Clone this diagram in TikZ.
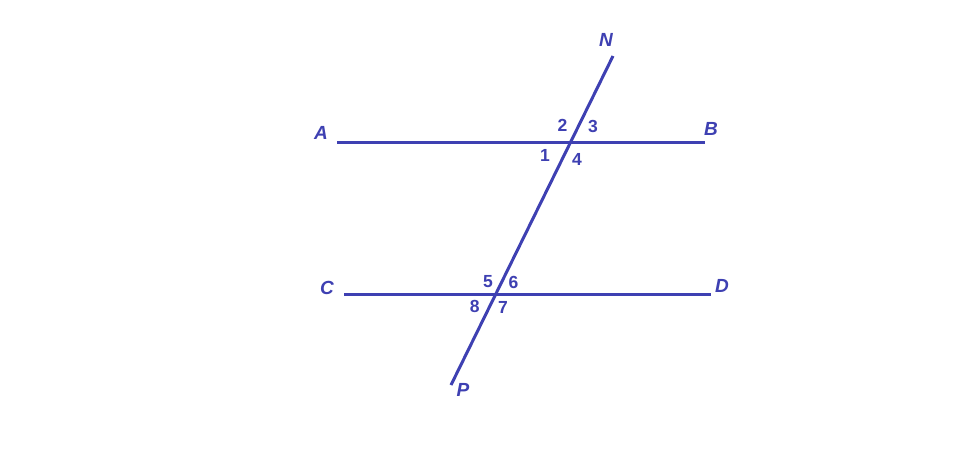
\documentclass[tikz,border=0pt]{standalone}
\usepackage{fontspec}
\setmainfont{Liberation Sans}
\definecolor{lineblue}{RGB}{62,64,178}
\begin{document}
\begin{tikzpicture}[x=1pt,y=-1pt,
  ln/.style={draw=lineblue,line width=3pt},
  pt/.style={inner sep=0pt,text=lineblue,font=\fontsize{19}{19}\selectfont\bfseries\itshape},
  ang/.style={inner sep=0pt,text=lineblue,font=\fontsize{17.5}{17.5}\selectfont\bfseries}]
\fill[white] (0,0) rectangle (958,456);
\useasboundingbox (0,0) rectangle (958,456);
\coordinate (a) at (337,142);
\coordinate (b) at (705,142);
\coordinate (c) at (344,294);
\coordinate (d) at (711,294);
\coordinate (n) at (613,56);
\coordinate (p) at (451,385);
\draw[ln] (a) -- (b);
\draw[ln] (c) -- (d);
\draw[ln] (n) -- (p);
\node[pt] (lA) at (321,132.5) {A};
\node[pt] (lB) at (711,129) {B};
\node[pt] (lC) at (327,288) {C};
\node[pt] (lD) at (722,286) {D};
\node[pt] (lN) at (606,40) {N};
\node[pt] (lP) at (463,390) {P};
\node[ang] (n2) at (562.5,125) {2};
\node[ang] (n3) at (593,126.5) {3};
\node[ang] (n1) at (545,155.5) {1};
\node[ang] (n4) at (577,159.5) {4};
\node[ang] (n5) at (488,281.7) {5};
\node[ang] (n6) at (513.5,282.7) {6};
\node[ang] (n8) at (474.7,306.7) {8};
\node[ang] (n7) at (503,307.5) {7};
\end{tikzpicture}
\end{document}
